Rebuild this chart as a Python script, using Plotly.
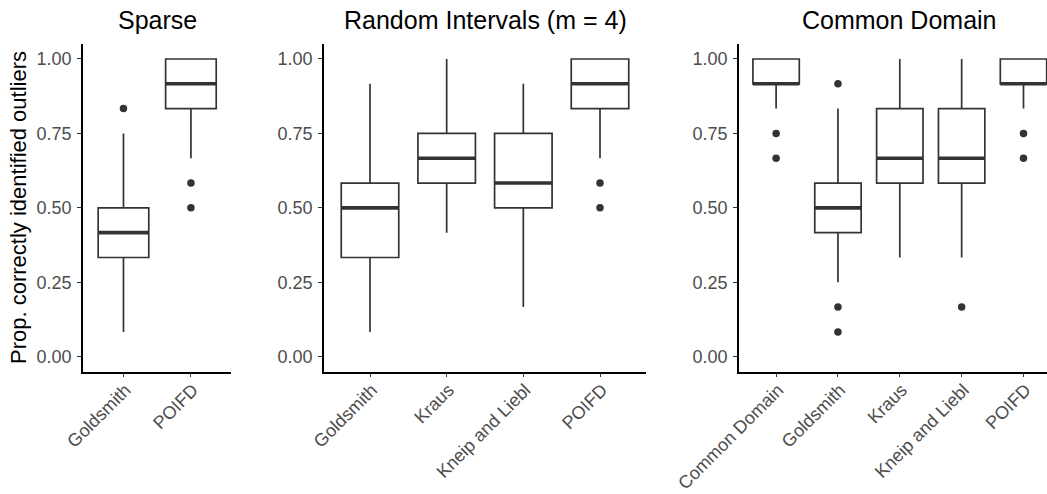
import plotly.graph_objects as go

# ---------------- data ----------------
panel_titles = ["Sparse", "Random Intervals (m = 4)", "Common Domain"]
y_title = "Prop. correctly identified outliers"
y_tickvals = [0.0, 0.25, 0.5, 0.75, 1.0]
y_ticktext = ["0.00", "0.25", "0.50", "0.75", "1.00"]

# Panel 1: Sparse
sp_methods = ["Goldsmith", "POIFD"]
sp_lower = [0.0833, 0.6667]
sp_q1 = [0.3333, 0.8333]
sp_median = [0.4167, 0.9167]
sp_q3 = [0.5, 1.0]
sp_upper = [0.75, 1.0]
sp_out_method = ["Goldsmith", "POIFD", "POIFD"]
sp_out_value = [0.8333, 0.5833, 0.5]

# Panel 2: Random Intervals (m = 4)
ri_methods = ["Goldsmith", "Kraus", "Kneip and Liebl", "POIFD"]
ri_lower = [0.0833, 0.4167, 0.1667, 0.6667]
ri_q1 = [0.3333, 0.5833, 0.5, 0.8333]
ri_median = [0.5, 0.6667, 0.5833, 0.9167]
ri_q3 = [0.5833, 0.75, 0.75, 1.0]
ri_upper = [0.9167, 1.0, 0.9167, 1.0]
ri_out_method = ["POIFD", "POIFD"]
ri_out_value = [0.5833, 0.5]

# Panel 3: Common Domain
cd_methods = ["Common Domain", "Goldsmith", "Kraus", "Kneip and Liebl", "POIFD"]
cd_lower = [0.8333, 0.25, 0.3333, 0.3333, 0.8333]
cd_q1 = [0.9167, 0.4167, 0.5833, 0.5833, 0.9167]
cd_median = [0.9167, 0.5, 0.6667, 0.6667, 0.9167]
cd_q3 = [1.0, 0.5833, 0.8333, 0.8333, 1.0]
cd_upper = [1.0, 0.8333, 1.0, 1.0, 1.0]
cd_out_method = ["Common Domain", "Common Domain", "Goldsmith", "Goldsmith", "Goldsmith",
                 "Kneip and Liebl", "POIFD", "POIFD"]
cd_out_value = [0.75, 0.6667, 0.9167, 0.1667, 0.0833, 0.1667, 0.75, 0.6667]

# ---------------- styling ----------------
W, H = 1047, 494
FONT = "Liberation Sans, Arial, Helvetica, sans-serif"
DARK = "#333333"
TICKTXT = "#4D4D4D"

fig = go.Figure()

panels = [
    ("x", "y", sp_methods, sp_lower, sp_q1, sp_median, sp_q3, sp_upper, sp_out_method, sp_out_value),
    ("x2", "y2", ri_methods, ri_lower, ri_q1, ri_median, ri_q3, ri_upper, ri_out_method, ri_out_value),
    ("x3", "y3", cd_methods, cd_lower, cd_q1, cd_median, cd_q3, cd_upper, cd_out_method, cd_out_value),
]

for xa, ya, m, lo, q1, med, q3, up, om, ov in panels:
    fig.add_trace(go.Box(
        x=m, q1=q1, median=med, q3=q3, lowerfence=lo, upperfence=up,
        xaxis=xa, yaxis=ya, boxpoints=False, width=0.75, whiskerwidth=0,
        fillcolor="white", line=dict(color=DARK, width=1.7), showlegend=False,
        hoverinfo="skip",
    ))
    # thick median lines
    fig.add_trace(go.Box(
        x=m, q1=med, median=med, q3=med, lowerfence=med, upperfence=med,
        xaxis=xa, yaxis=ya, boxpoints=False, width=0.75, whiskerwidth=0,
        fillcolor="rgba(0,0,0,0)", line=dict(color=DARK, width=3.6), showlegend=False,
        hoverinfo="skip",
    ))
    fig.add_trace(go.Scatter(
        x=om, y=ov, mode="markers", xaxis=xa, yaxis=ya,
        marker=dict(color=DARK, size=7.5, line=dict(width=0)), showlegend=False,
        hoverinfo="skip",
    ))

# domains (pixel-derived)
x_domains = [(83 / W, 231.4 / W), (324 / W, 646 / W), (739 / W, 1.0)]
x_ranges = [[-0.6, 1.6], [-0.6, 3.6], [-0.6, 4.38]]
y_domain = [(H - 371.6) / H, (H - 44.1) / H]

axis_common = dict(
    showline=True, linecolor="black", linewidth=1.6, mirror=False,
    ticks="outside", ticklen=4, tickwidth=1.2, tickcolor=DARK,
    showgrid=False, zeroline=False, automargin=False,
    tickfont=dict(family=FONT, size=18, color=TICKTXT),
)

layout_axes = {}
for i in range(3):
    sfx = "" if i == 0 else str(i + 1)
    layout_axes["xaxis" + sfx] = dict(
        axis_common, domain=list(x_domains[i]), range=x_ranges[i], type="category",
        anchor="y" + sfx, tickangle=-45, fixedrange=True,
        ticklabelstandoff=-5, ticklabelshift=2,
    )
    layout_axes["yaxis" + sfx] = dict(
        axis_common, domain=y_domain, range=[-0.05, 1.05], anchor="x" + sfx,
        tickvals=y_tickvals, ticktext=y_ticktext, ticklabelstandoff=2, fixedrange=True,
    )

title_centers = [157, 485, 899.5]
annotations = []
for t, cx in zip(panel_titles, title_centers):
    annotations.append(dict(
        text=t, x=cx / W, y=(H - 20) / H, xref="paper", yref="paper",
        xanchor="center", yanchor="middle", showarrow=False,
        font=dict(family=FONT, size=25, color="black"),
    ))
annotations.append(dict(
    text=y_title, x=18.5 / W, y=(H - 207.5) / H, xref="paper", yref="paper",
    xanchor="center", yanchor="middle", textangle=-90, showarrow=False,
    font=dict(family=FONT, size=22, color="black"),
))

fig.update_layout(
    width=W, height=H, autosize=False,
    margin=dict(l=0, r=0, t=0, b=0, autoexpand=False),
    paper_bgcolor="white", plot_bgcolor="white",
    boxmode="overlay", hovermode=False,
    annotations=annotations,
    **layout_axes,
)

fig.write_html("out.html", config={"displayModeBar": False})
